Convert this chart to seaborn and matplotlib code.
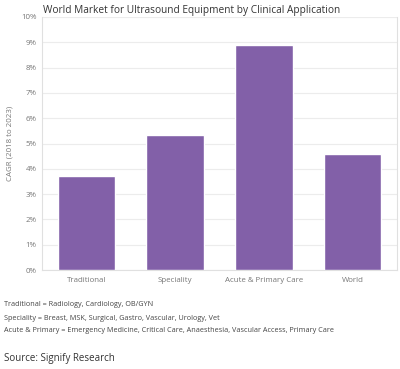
import matplotlib
matplotlib.use("Agg")
import matplotlib.pyplot as plt
import seaborn as sns
import pandas as pd
from matplotlib.ticker import PercentFormatter

categories = ["Traditional", "Speciality", "Acute & Primary Care", "World"]
cagr = [3.7, 5.33, 8.9, 4.6]
yticks = list(range(0, 11))

notes = [
    "Traditional = Radiology, Cardiology, OB/GYN",
    "Speciality = Breast, MSK, Surgical, Gastro, Vascular, Urology, Vet",
    "Acute & Primary = Emergency Medicine, Critical Care, Anaesthesia, Vascular Access, Primary Care",
]
source = "Source: Signify Research"

df = pd.DataFrame({"category": categories, "cagr": cagr})

sns.set_style("white")
plt.rcParams["font.family"] = ["Open Sans", "DejaVu Sans"]

fig = plt.figure(figsize=(4.0, 3.69), dpi=100)
ax = fig.add_axes([0.105, 0.268, 0.887, 0.686])

sns.barplot(data=df, x="category", y="cagr", color="#8260a8", saturation=1,
            width=0.65, ax=ax, zorder=3)

ax.set_ylim(0, 10)
ax.set_yticks(yticks)
ax.yaxis.set_major_formatter(PercentFormatter(decimals=0))
ax.grid(axis="y", color="#ececec", linewidth=0.8, zorder=0)
ax.tick_params(axis="both", labelsize=5.7, colors="#777777", length=2, width=0.5, pad=2)
ax.tick_params(axis="x", length=0, pad=5)
ax.set_xlabel("")
ax.set_ylabel("CAGR (2018 to 2023)", fontsize=5.7, color="#777777", labelpad=5)
for side in ["left", "right", "bottom"]:
    ax.spines[side].set_color("#e0e0e0")
    ax.spines[side].set_linewidth(0.8)
ax.spines["top"].set_visible(False)

fig.text(0.107, 0.972, "World Market for Ultrasound Equipment by Clinical Application",
         fontsize=7.3, color="#333333", va="center")

for i, note in enumerate(notes):
    fig.text(0.01, 1 - (305 + 13 * i) / 369, note, fontsize=5.2, color="#444444", va="center")
fig.text(0.01, 1 - 358 / 369, source, fontsize=7, color="#333333", va="center")

fig.savefig("out.png", dpi=100)
